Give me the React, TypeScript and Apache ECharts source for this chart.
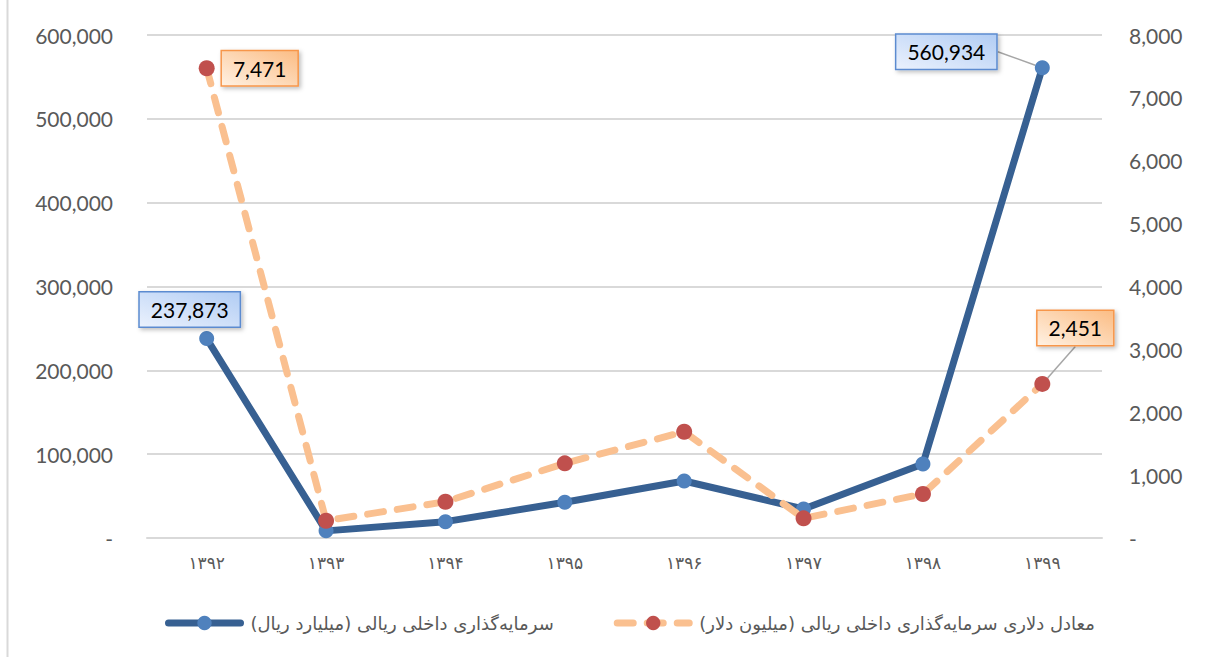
import React, { useEffect, useRef } from "react";
import * as echarts from "echarts";

const categories = ["۱۳۹۲", "۱۳۹۳", "۱۳۹۴", "۱۳۹۵", "۱۳۹۶", "۱۳۹۷", "۱۳۹۸", "۱۳۹۹"];
const rialValues = [237873, 8500, 19500, 42600, 68000, 34600, 88300, 560934];
const dollarValues = [7471, 275, 577, 1188, 1690, 313, 700, 2451];
const rialName = "سرمایه‌گذاری داخلی ریالی (میلیارد ریال)";
const dollarName = "معادل دلاری سرمایه‌گذاری داخلی ریالی (میلیون دلار)";
const rialLabelIdx = [0, 7];
const dollarLabelIdx = [0, 7];

const rtl = (s: string) => "\u202B" + s + "\u202C";
const fmt = (v: number) => (v === 0 ? "-" : v.toLocaleString("en-US"));
const FONT = "Lato, 'DejaVu Sans', sans-serif";

export default function App() {
  const ref = useRef<HTMLDivElement>(null);
  useEffect(() => {
    if (!ref.current) return;
    const chart = echarts.init(ref.current, undefined, { renderer: "svg" });
    const blueBox = {
      backgroundColor: new echarts.graphic.LinearGradient(0, 1, 1, 0, [
        { offset: 0, color: "#eaf1fd" },
        { offset: 1, color: "#b2cdf4" },
      ]),
      borderColor: "#5b8bd0",
    };
    const orangeBox = {
      backgroundColor: new echarts.graphic.LinearGradient(0, 1, 1, 0, [
        { offset: 0, color: "#fff1e2" },
        { offset: 1, color: "#fbbd85" },
      ]),
      borderColor: "#f7964a",
    };
    const labelBase = {
      position: "inside",
      fontSize: 21,
      fontFamily: FONT,
      color: "#000",
      padding: [7, 11, 6, 11],
      borderWidth: 1.5,
      shadowColor: "rgba(0,0,0,0.25)",
      shadowBlur: 4,
      shadowOffsetX: 2,
      shadowOffsetY: 2,
      formatter: (p: any) => p.value.toLocaleString("en-US"),
    };
    const rialOffsets: Record<number, [number, number]> = { 0: [-17, -29], 7: [-96, -16] };
    const dollarOffsets: Record<number, [number, number]> = { 0: [53, 0], 7: [33, -56] };

    chart.setOption({
      animation: false,
      textStyle: { fontFamily: FONT },
      grid: { left: 147, right: 113, top: 35, bottom: 119, containLabel: false },
      legend: {
        bottom: 20,
        left: 160,
        itemWidth: 72,
        itemHeight: 18,
        itemGap: 60,
        textStyle: {
          fontSize: 18,
          color: "#595959",
          fontFamily: "'DejaVu Sans', sans-serif",
          padding: [0, 0, 0, 5],
        },
        data: [
          { name: rialName, lineStyle: { width: 7 } },
          { name: dollarName, lineStyle: { width: 7 } },
        ],
        formatter: (n: string) => rtl(n),
      },
      xAxis: {
        type: "category",
        data: categories,
        boundaryGap: true,
        axisLine: { show: true, lineStyle: { color: "#d9d9d9", width: 2 } },
        axisTick: { show: false },
        axisLabel: {
          color: "#595959",
          fontSize: 17,
          fontFamily: "'DejaVu Sans', sans-serif",
          margin: 16,
        },
      },
      yAxis: [
        {
          type: "value",
          min: 0,
          max: 600000,
          interval: 100000,
          axisLine: { show: false },
          axisTick: { show: false },
          splitLine: { lineStyle: { color: "#d9d9d9", width: 2 } },
          axisLabel: { color: "#595959", fontSize: 21, fontFamily: FONT, margin: 34, formatter: fmt },
        },
        {
          type: "value",
          min: 0,
          max: 8000,
          interval: 1000,
          axisLine: { show: false },
          axisTick: { show: false },
          splitLine: { show: false },
          axisLabel: { color: "#595959", fontSize: 21, fontFamily: FONT, margin: 27, formatter: fmt },
        },
      ],
      series: [
        {
          name: rialName,
          type: "line",
          yAxisIndex: 0,
          symbol: "circle",
          symbolSize: 15,
          lineStyle: { color: "#376092", width: 7, cap: "round", join: "round" },
          itemStyle: { color: "#4f81bd" },
          data: rialValues.map((v, i) => ({
            value: v,
            label: rialLabelIdx.includes(i) ? { show: true, ...labelBase, ...blueBox } : { show: false },
            labelLine: { show: i === 7, lineStyle: { color: "#a6a6a6", width: 1.5 } },
          })),
          labelLayout: (p: any) => {
            const o = rialOffsets[p.dataIndex];
            return o ? { dx: o[0], dy: o[1] } : {};
          },
          z: 2,
        },
        {
          name: dollarName,
          type: "line",
          yAxisIndex: 1,
          symbol: "circle",
          symbolSize: 16,
          lineStyle: { color: "#fac090", width: 7, type: [16, 14], cap: "round", join: "round" },
          itemStyle: { color: "#c0504d" },
          data: dollarValues.map((v, i) => ({
            value: v,
            label: dollarLabelIdx.includes(i) ? { show: true, ...labelBase, ...orangeBox } : { show: false },
            labelLine: { show: i === 7, lineStyle: { color: "#a6a6a6", width: 1.5 } },
          })),
          labelLayout: (p: any) => {
            const o = dollarOffsets[p.dataIndex];
            return o ? { dx: o[0], dy: o[1] } : {};
          },
          z: 3,
        },
      ],
      graphic: [
        {
          type: "line",
          shape: { x1: 7.5, y1: 0, x2: 7.5, y2: 657 },
          style: { stroke: "#d9d9d9", lineWidth: 2 },
        },
      ],
    } as any);
    return () => chart.dispose();
  }, []);
  return (
    <div
      ref={ref}
      style={{ position: "absolute", left: 0, top: 0, width: 1215, height: 657, background: "#fff" }}
    />
  );
}
